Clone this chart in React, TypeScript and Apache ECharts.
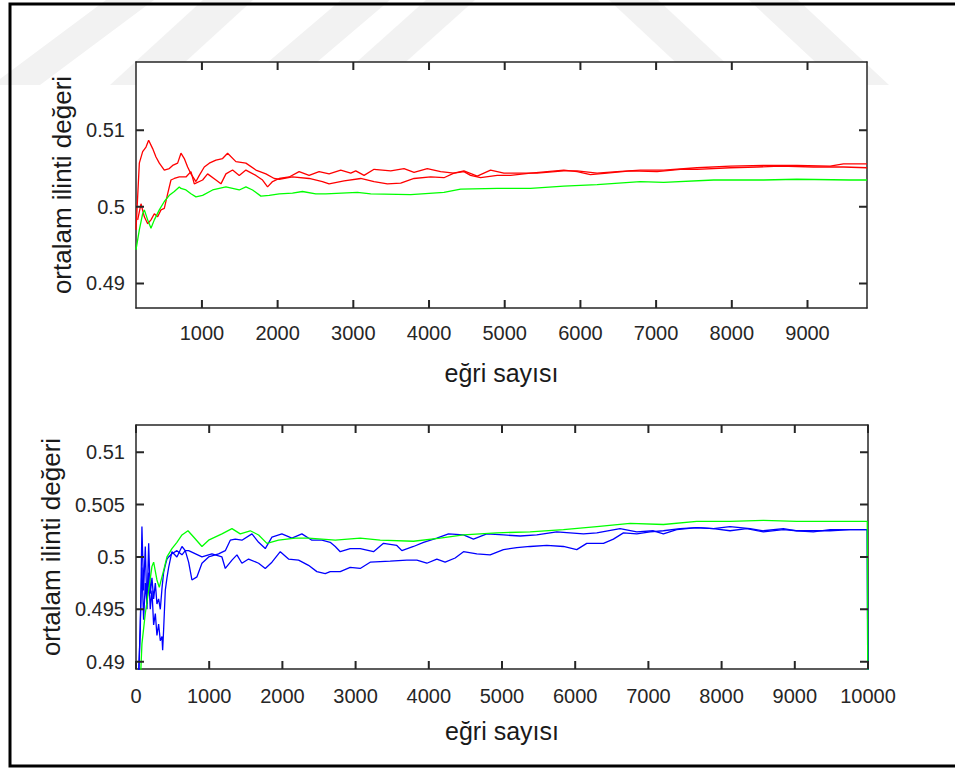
import React, { useEffect, useRef } from "react";
import * as echarts from "echarts";

// ---------- tick values ----------
const topXTicks = [1000, 2000, 3000, 4000, 5000, 6000, 7000, 8000, 9000];
const topYTicks = [0.49, 0.5, 0.51];
const botXTicks = [0, 1000, 2000, 3000, 4000, 5000, 6000, 7000, 8000, 9000, 10000];
const botYTicks = [0.49, 0.495, 0.5, 0.505, 0.51];

const topXRange = [129, 9786];
const topYRange = [0.4868, 0.5189];
const botXRange = [0, 10000];
const botYRange = [0.4893, 0.5126];

const xTitle = "eğri sayısı";
const yTitle = "ortalam ilinti değeri";

// ---------- top panel ----------
const topGreenX = [129,173,217,239,283,327,371,437,503,569,635,701,723,789,855,921,1009,1141,1317,1405,1493,1581,1669,1779,1889,2021,2196,2328,2504,2636,3054,3230,3758,4197,4417,4901,5341,5781,6220,6792,7100,7760,8419,8859,9563,9786];
const topGreenY = [0.4944,0.4970,0.4991,0.4996,0.4983,0.4972,0.4983,0.4996,0.5007,0.5015,0.5020,0.5026,0.5024,0.5022,0.5017,0.5013,0.5015,0.5022,0.5026,0.5024,0.5022,0.5026,0.5022,0.5014,0.5015,0.5017,0.5018,0.5020,0.5017,0.5017,0.5019,0.5017,0.5016,0.5019,0.5023,0.5024,0.5024,0.5027,0.5029,0.5033,0.5032,0.5035,0.5035,0.5036,0.5035,0.5035];

const topRedAX = [129,173,217,261,296,349,393,437,503,569,613,679,723,767,811,855,921,965,1031,1097,1185,1273,1339,1449,1581,1713,1845,1955,2021,2196,2416,2592,2680,2878,3098,3274,3450,3626,3802,4021,4197,4329,4461,4549,4681,4901,5077,5341,5781,5957,6132,6352,6660,7012,7320,7540,7980,8331,8639,9079,9299,9475,9786];
const topRedAY = [0.4970,0.5057,0.5072,0.5078,0.5087,0.5076,0.5065,0.5057,0.5048,0.5050,0.5054,0.5057,0.5070,0.5063,0.5052,0.5043,0.5033,0.5041,0.5052,0.5057,0.5061,0.5063,0.5070,0.5059,0.5057,0.5048,0.5043,0.5037,0.5036,0.5039,0.5037,0.5033,0.5030,0.5034,0.5037,0.5033,0.5030,0.5031,0.5037,0.5039,0.5038,0.5044,0.5046,0.5041,0.5038,0.5041,0.5041,0.5044,0.5048,0.5046,0.5042,0.5044,0.5047,0.5046,0.5049,0.5049,0.5051,0.5052,0.5053,0.5052,0.5052,0.5052,0.5051];

const topRedBX = [151,195,239,283,327,371,415,459,503,547,591,635,701,789,855,899,1009,1075,1185,1251,1317,1405,1493,1581,1713,1801,1867,1933,2021,2152,2284,2416,2548,2680,2834,2966,3032,3142,3274,3494,3670,3802,3977,4153,4329,4461,4637,4813,4989,5165,5429,5781,5957,6220,6484,6792,7100,7540,7980,8419,8859,9299,9475,9786];
const topRedBY = [0.4983,0.5004,0.4987,0.4978,0.4983,0.4991,0.4987,0.4996,0.4998,0.5017,0.5035,0.5037,0.5039,0.5039,0.5046,0.5030,0.5035,0.5043,0.5035,0.5030,0.5043,0.5048,0.5041,0.5048,0.5041,0.5035,0.5026,0.5033,0.5037,0.5039,0.5046,0.5041,0.5046,0.5043,0.5048,0.5044,0.5047,0.5041,0.5049,0.5047,0.5050,0.5045,0.5050,0.5046,0.5044,0.5047,0.5040,0.5048,0.5044,0.5044,0.5044,0.5047,0.5047,0.5044,0.5046,0.5048,0.5048,0.5051,0.5053,0.5054,0.5054,0.5053,0.5056,0.5056];

// ---------- bottom panel ----------
const botGreenX = [59,81,127,173,218,241,286,318,377,423,491,559,628,710,787,901,992,1174,1311,1424,1561,1675,1789,1948,2175,2357,2540,2722,3063,3336,3791,4155,4474,4929,5384,5839,6295,6750,7205,7660,8115,8571,9026,9481,9754,9990,10000];
const botGreenY = [0.4880,0.4917,0.4946,0.4968,0.4991,0.4995,0.4978,0.4971,0.4987,0.5000,0.5008,0.5014,0.5021,0.5025,0.5019,0.5010,0.5016,0.5022,0.5027,0.5022,0.5025,0.5021,0.5013,0.5016,0.5018,0.5018,0.5017,0.5016,0.5018,0.5016,0.5015,0.5018,0.5021,0.5023,0.5024,0.5026,0.5029,0.5032,0.5031,0.5034,0.5034,0.5035,0.5034,0.5034,0.5034,0.5034,0.4800];

const botBlueAX = [36,59,81,104,127,150,173,195,218,241,264,286,309,332,355,377,400,423,446,491,559,628,673,719,764,833,901,992,1128,1220,1288,1356,1447,1584,1675,1766,1857,1993,2130,2266,2403,2540,2653,2722,2790,2926,3063,3245,3381,3563,3632,3791,3928,4110,4269,4474,4610,4792,5020,5248,5475,5748,5930,6113,6295,6613,6841,7068,7205,7387,7660,7888,8115,8343,8571,8844,9026,9253,9481,9754,9990,10000];
const botBlueAY = [0.4890,0.4930,0.5029,0.4968,0.5010,0.4950,0.5013,0.4965,0.4980,0.4960,0.4975,0.4955,0.4960,0.4950,0.4970,0.4985,0.4992,0.4998,0.5000,0.5003,0.5006,0.5002,0.5006,0.4995,0.4978,0.4981,0.4994,0.5000,0.5003,0.5006,0.5016,0.5017,0.5016,0.5022,0.5014,0.5008,0.5019,0.5022,0.5018,0.5022,0.5016,0.5016,0.5014,0.5010,0.5005,0.5008,0.5008,0.5005,0.5013,0.5011,0.5006,0.5010,0.5014,0.5018,0.5022,0.5021,0.5017,0.5022,0.5021,0.5020,0.5021,0.5024,0.5023,0.5022,0.5023,0.5027,0.5024,0.5025,0.5022,0.5026,0.5028,0.5027,0.5025,0.5027,0.5024,0.5026,0.5025,0.5025,0.5025,0.5026,0.5026,0.4800];

const botBlueBX = [36,59,81,104,127,150,173,195,218,241,264,286,309,332,355,364,377,400,423,446,491,559,628,673,719,901,1037,1174,1220,1311,1379,1447,1538,1675,1766,1857,1971,2084,2221,2357,2471,2585,2653,2790,2926,3063,3199,3472,3700,3837,3973,4110,4223,4360,4474,4656,4838,5020,5202,5384,5612,5839,6021,6158,6386,6522,6659,6841,7023,7205,7433,7660,7888,8115,8389,8571,8844,9026,9253,9481,9754,9990,10000];
const botBlueBY = [0.4880,0.4940,0.4990,0.4940,0.4975,0.4955,0.4985,0.4950,0.4968,0.4935,0.4946,0.4925,0.4936,0.4920,0.4924,0.4911,0.4930,0.4968,0.4980,0.4990,0.5005,0.5000,0.5010,0.5006,0.5006,0.5000,0.5003,0.5000,0.4989,0.4997,0.5002,0.4994,0.4998,0.4994,0.4989,0.4995,0.5005,0.4998,0.4997,0.4992,0.4986,0.4984,0.4986,0.4986,0.4990,0.4989,0.4995,0.4996,0.4997,0.4997,0.4994,0.4998,0.4995,0.4999,0.5005,0.5003,0.5002,0.5007,0.5009,0.5010,0.5011,0.5010,0.5007,0.5013,0.5013,0.5017,0.5023,0.5022,0.5024,0.5025,0.5027,0.5028,0.5027,0.5029,0.5027,0.5025,0.5027,0.5025,0.5024,0.5026,0.5026,0.5026,0.4850];

const FONT = '"Liberation Sans", Arial, Helvetica, sans-serif';
const AXIS = "#262626";
const TICK_PX = 8;

const TOP_GRID = { left: 136, top: 62, width: 731, height: 246 };
const BOT_GRID = { left: 136, top: 425, width: 732, height: 244 };

const zip = (xs: number[], ys: number[]) => xs.map((x, i) => [x, ys[i]]);

function mkX(grid: number, range: number[], ticks: number[], bottom: boolean, gap: number, margin: number) {
  return {
    type: "value",
    gridIndex: grid,
    position: bottom ? "bottom" : "top",
    min: range[0],
    max: range[1],
    name: bottom ? xTitle : "",
    nameLocation: "middle",
    nameGap: gap,
    nameTextStyle: { fontFamily: FONT, fontSize: 25, color: "#1a1a1a" },
    axisLine: { show: true, onZero: false, lineStyle: { color: AXIS, width: 1.5 } },
    axisTick: { show: false },
    axisLabel: {
      show: bottom,
      customValues: ticks,
      formatter: (v: number) => String(v),
      fontFamily: FONT,
      fontSize: 20,
      color: AXIS,
      margin,
    },
    splitLine: { show: false },
  };
}

function mkY(grid: number, range: number[], ticks: number[], left: boolean, gap: number) {
  return {
    type: "value",
    gridIndex: grid,
    position: left ? "left" : "right",
    min: range[0],
    max: range[1],
    name: left ? yTitle : "",
    nameLocation: "middle",
    nameGap: gap,
    nameTextStyle: { fontFamily: FONT, fontSize: 26, color: "#1a1a1a" },
    axisLine: { show: true, onZero: false, lineStyle: { color: AXIS, width: 1.5 } },
    axisTick: { show: false },
    axisLabel: {
      show: left,
      customValues: ticks,
      formatter: (v: number) => String(v),
      fontFamily: FONT,
      fontSize: 20,
      color: AXIS,
      margin: 11,
    },
    splitLine: { show: false },
  };
}

function line(xi: number, yi: number, xs: number[], ys: number[], color: string) {
  return {
    type: "line",
    xAxisIndex: xi,
    yAxisIndex: yi,
    z: 3,
    data: zip(xs, ys),
    showSymbol: false,
    symbol: "none",
    clip: true,
    lineStyle: { color, width: 1.3 },
    itemStyle: { color },
    emphasis: { disabled: true },
  };
}

// inward tick marks on all four sides, as short broken segments in axis units
function tickSeries(xi: number, yi: number, xr: number[], yr: number[], xt: number[], yt: number[], g: any) {
  const dy = (TICK_PX / g.height) * (yr[1] - yr[0]);
  const dx = (TICK_PX / g.width) * (xr[1] - xr[0]);
  const data: any[] = [];
  xt.forEach((v) => {
    data.push([v, yr[0]], [v, yr[0] + dy], [v, "-"]);
    data.push([v, yr[1]], [v, yr[1] - dy], [v, "-"]);
  });
  yt.forEach((v) => {
    data.push([xr[0], v], [xr[0] + dx, v], ["-", v]);
    data.push([xr[1], v], [xr[1] - dx, v], ["-", v]);
  });
  return {
    type: "line",
    xAxisIndex: xi,
    yAxisIndex: yi,
    z: 7,
    silent: true,
    clip: false,
    connectNulls: false,
    showSymbol: false,
    symbol: "none",
    data,
    lineStyle: { color: AXIS, width: 2 },
    emphasis: { disabled: true },
  };
}

// faint background watermark stripes (decorative)
const stripes: number[][][] = [
  [[106, 0], [154, 0], [40, 85], [-8, 85]],
  [[203, 0], [253, 0], [160, 85], [110, 85]],
  [[341, 0], [390, 0], [290, 85], [241, 85]],
  [[426, 0], [475, 0], [380, 85], [331, 85]],
  [[609, 0], [658, 0], [749, 85], [700, 85]],
  [[749, 0], [798, 0], [889, 85], [840, 85]],
];

export default function App() {
  const ref = useRef<HTMLDivElement>(null);
  useEffect(() => {
    if (!ref.current) return;
    const chart = echarts.init(ref.current, undefined, { renderer: "svg" });
    chart.setOption({
      animation: false,
      backgroundColor: "#ffffff",
      grid: [TOP_GRID, BOT_GRID],
      xAxis: [
        mkX(0, topXRange, topXTicks, true, 52, 15),
        mkX(0, topXRange, topXTicks, false, 0, 8),
        mkX(1, botXRange, botXTicks, true, 49, 17),
        mkX(1, botXRange, botXTicks, false, 0, 8),
      ],
      yAxis: [
        mkY(0, topYRange, topYTicks, true, 59),
        mkY(0, topYRange, topYTicks, false, 0),
        mkY(1, botYRange, botYTicks, true, 67),
        mkY(1, botYRange, botYTicks, false, 0),
      ],
      series: [
        line(0, 0, topRedAX, topRedAY, "#ff0000"),
        line(0, 0, topRedBX, topRedBY, "#ff0000"),
        line(0, 0, topGreenX, topGreenY, "#00ff00"),
        line(2, 2, botBlueAX, botBlueAY, "#0000ff"),
        line(2, 2, botBlueBX, botBlueBY, "#0000ff"),
        line(2, 2, botGreenX, botGreenY, "#00ff00"),
        tickSeries(0, 0, topXRange, topYRange, topXTicks, topYTicks, TOP_GRID),
        tickSeries(2, 2, botXRange, botYRange, botXTicks, botYTicks, BOT_GRID),
      ],
      graphic: [
        ...stripes.map((pts) => ({
          type: "polygon",
          z: -10,
          silent: true,
          shape: { points: pts },
          style: { fill: "#f2f2f2" },
        })),
        {
          type: "rect",
          z: -9,
          silent: true,
          shape: { x: 136, y: 62, width: 731, height: 246 },
          style: { fill: "#ffffff" },
        },
        {
          type: "rect",
          z: 10,
          silent: true,
          shape: { x: 10, y: 4, width: 980, height: 762 },
          style: { fill: "none", stroke: "#000000", lineWidth: 3 },
        },
      ],
    });
    return () => chart.dispose();
  }, []);
  return (
    <div
      ref={ref}
      style={{ position: "fixed", left: 0, top: 0, width: 955, height: 769, background: "#fff" }}
    />
  );
}
